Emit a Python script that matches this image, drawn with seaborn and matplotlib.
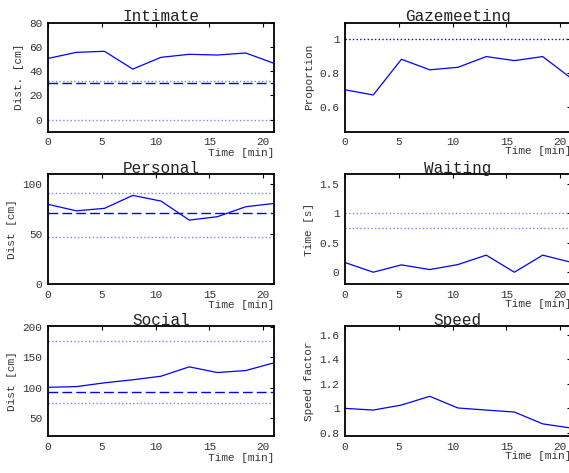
import matplotlib
matplotlib.use("Agg")
import matplotlib.pyplot as plt
import seaborn as sns
import pandas as pd

sns.set_style("white")
plt.rcParams["font.family"] = ["Liberation Mono", "DejaVu Sans Mono"]

# time axis (minutes)
time_min = [0, 2.63, 5.25, 7.88, 10.5, 13.13, 15.75, 18.38, 21]

intimate = [50.5, 55.5, 56.4, 41.7, 51.4, 53.9, 53.3, 55, 46.5]
gaze = [0.70, 0.669, 0.882, 0.819, 0.834, 0.898, 0.874, 0.898, 0.77]
personal = [80, 73.5, 76, 89, 83.3, 64.2, 67.6, 77.6, 80.9]
waiting = [0.165, 0.0, 0.125, 0.045, 0.13, 0.29, 0.0, 0.29, 0.17]
social = [100.6, 101.7, 108, 113, 118.9, 134.4, 125, 128.3, 141]
speed = [1.0, 0.986, 1.027, 1.098, 1.003, 0.986, 0.97, 0.874, 0.84]

titles = ["Intimate", "Gazemeeting", "Personal", "Waiting", "Social", "Speed"]
ylabels = ["Dist. [cm]", "Proportion", "Dist [cm]", "Time [s]", "Dist [cm]", "Speed factor"]
ylims = [(-10, 80), (0.45, 1.1), (0, 110), (-0.2, 1.66), (20, 202), (0.775, 1.67)]
yticks = [[0, 20, 40, 60, 80], [0.6, 0.8, 1], [0, 50, 100], [0, 0.5, 1, 1.5],
          [50, 100, 150, 200], [0.8, 1, 1.2, 1.4, 1.6]]
yticklabels = [["0", "20", "40", "60", "80"], ["0.6", "0.8", "1"], ["0", "50", "100"],
               ["0", "0.5", "1", "1.5"], ["50", "100", "150", "200"],
               ["0.8", "1", "1.2", "1.4", "1.6"]]
# reference levels: dashed mean, dotted bounds
dashed = [30, None, 71, None, 93.3, None]
dotted = [[32.2, 0], [1.0], [91, 47.2], [1.01, 0.75], [177, 74.4], []]
xticks = [0, 5, 10, 15, 20]

series = [intimate, gaze, personal, waiting, social, speed]

fig = plt.figure(figsize=(5.69, 4.73), dpi=100)
lefts = [0.0844, 0.6063]
bottoms = [0.7216, 0.3996, 0.0782]
heights = [0.2304, 0.2315, 0.2326]

for i in range(6):
    row, col = i // 2, i % 2
    ax = fig.add_axes([lefts[col], bottoms[row], 0.397, heights[row]])
    df = pd.DataFrame({"t": time_min, "v": series[i]})
    sns.lineplot(data=df, x="t", y="v", ax=ax, color="blue", linewidth=0.9)
    for lv in dotted[i]:
        c = "blue" if i == 1 else "#8080ff"
        ax.axhline(lv, color=c, linestyle=":", linewidth=1)
    if dashed[i] is not None:
        ax.axhline(dashed[i], color="blue", linestyle=(0, (7, 3)), linewidth=1)
    ax.set_xlim(0, 21)
    ax.set_ylim(*ylims[i])
    ax.set_xticks(xticks)
    ax.set_xticklabels([str(x) for x in xticks])
    ax.set_yticks(yticks[i])
    ax.set_yticklabels(yticklabels[i])
    ax.tick_params(direction="in", top=True, right=True, length=3, width=0.8,
                   labelsize=8, pad=4, colors="black", labelcolor="#333333")
    for s in ax.spines.values():
        s.set_color("black")
        s.set_linewidth(1.3)
    ax.set_title(titles[i], fontsize=11.5, pad=1, color="#222222")
    ax.set_ylabel(ylabels[i], fontsize=8, color="#333333", labelpad=4)
    ax.set_xlabel("Time [min]", fontsize=8, color="#333333", ha="right")
    ax.xaxis.set_label_coords(1.0, -0.15 if col == 0 else -0.135)

fig.savefig("out.png", dpi=100)
